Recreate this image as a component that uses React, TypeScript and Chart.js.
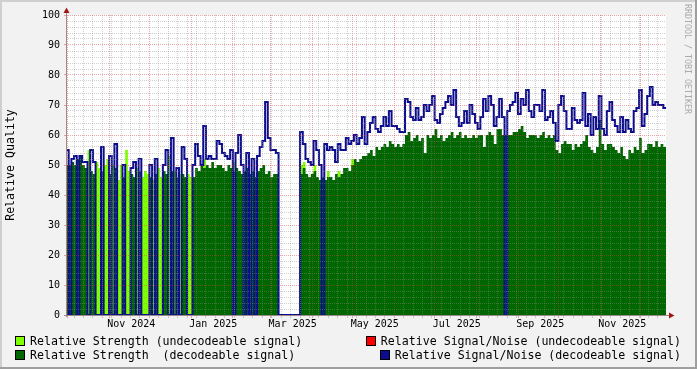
import React, { useEffect, useRef } from "react";
import { Chart, registerables } from "chart.js";

Chart.register(...registerables);

const MONO = "'DejaVu Sans Mono', monospace";

// ---- time axis ----
const SPAN_START = "2024-09-30";
const SPAN_DAYS = 446;
const STEP_DAYS = 2;
const monthStarts = [
  "2024-10-01", "2024-11-01", "2024-12-01", "2025-01-01", "2025-02-01", "2025-03-01",
  "2025-04-01", "2025-05-01", "2025-06-01", "2025-07-01", "2025-08-01", "2025-09-01",
  "2025-10-01", "2025-11-01", "2025-12-01",
];
const labelMonths = ["2024-11-01", "2025-01-01", "2025-03-01", "2025-05-01", "2025-07-01", "2025-09-01", "2025-11-01"];
const labelTexts = ["Nov 2024", "Jan 2025", "Mar 2025", "May 2025", "Jul 2025", "Sep 2025", "Nov 2025"];
const LABEL_SHIFT_DAYS = 16.5;
const FIRST_WEEK_LINE = "2024-10-06";
const WEEK_DAYS = 7;

// ---- value axis ----
const yMajorLabels = ["0", "10", "20", "30", "40", "50", "60", "70", "80", "90", "100"];
const Y_MINOR_STEP = 2;

// ---- series (one value per 2-day step) ----
const strengthDecodeable = [
  50, 50, 51, 50, 52, 53, 50, 49, 0, 48,
  47, 0, 0, 48, 0, 0, 47, 0, 49, 0,
  0, 46, 0, 0, 47, 46, 0, 48, 0, 0,
  0, 46, 0, 47, 0, 0, 48, 47, 0, 48,
  0, 46, 0, 47, 46, 0, 0, 46, 49, 48,
  50, 49, 50, 49, 51, 49, 50, 50, 49, 48,
  50, 49, 48, 49, 48, 47, 48, 49, 47, 48,
  46, 48, 49, 50, 47, 48, 46, 47, 47, 0,
  0, 0, 0, 0, 0, 0, 0, 47, 49, 47,
  46, 47, 48, 46, 45, 46, 45, 46, 46, 45,
  47, 46, 47, 49, 49, 48, 50, 52, 51, 52,
  53, 53, 54, 55, 53, 56, 55, 56, 57, 56,
  58, 57, 56, 57, 56, 57, 60, 61, 58, 59,
  60, 58, 59, 54, 60, 59, 60, 62, 59, 60,
  58, 59, 60, 61, 59, 60, 61, 59, 60, 59,
  59, 60, 59, 60, 60, 56, 60, 61, 60, 57,
  62, 62, 60, 60, 60, 60, 61, 61, 62, 63,
  61, 59, 60, 60, 60, 59, 60, 61, 59, 60,
  59, 60, 55, 54, 57, 58, 57, 57, 55, 57,
  56, 57, 58, 60, 56, 55, 54, 56, 65, 57,
  55, 57, 57, 56, 55, 54, 56, 53, 52, 55,
  54, 56, 55, 59, 54, 55, 57, 57, 56, 58,
  56, 57, 56,
];

const strengthUndecodeable = [
  0, 0, 0, 0, 0, 0, 0, 0, 55, 0,
  0, 51, 49, 0, 50, 52, 0, 50, 0, 45,
  50, 0, 55, 48, 0, 0, 49, 0, 46, 48,
  47, 0, 45, 0, 49, 46, 0, 0, 53, 0,
  48, 0, 47, 0, 0, 47, 46, 0, 0, 0,
  0, 52, 0, 0, 0, 0, 0, 0, 0, 0,
  0, 0, 51, 0, 0, 0, 0, 0, 0, 0,
  0, 0, 0, 0, 0, 0, 0, 0, 0, 0,
  0, 0, 0, 0, 0, 0, 0, 50, 51, 0,
  0, 0, 50, 0, 0, 0, 0, 48, 0, 0,
  0, 48, 0, 0, 0, 0, 52, 0, 0, 0,
  0, 0, 0, 0, 0, 0, 0, 0, 0, 0,
  0, 0, 0, 0, 0, 0, 0, 0, 0, 0,
  0, 0, 0, 0, 0, 0, 0, 0, 0, 0,
  0, 0, 0, 0, 0, 0, 0, 0, 0, 0,
  0, 0, 0, 0, 0, 0, 0, 0, 0, 0,
  0, 0, 0, 0, 0, 0, 0, 0, 0, 0,
  0, 0, 0, 0, 0, 0, 0, 0, 0, 0,
  0, 0, 0, 0, 0, 0, 0, 0, 0, 0,
  0, 0, 0, 0, 0, 0, 0, 0, 0, 0,
  0, 0, 0, 0, 0, 0, 0, 0, 0, 0,
  0, 0, 0, 0, 0, 0, 0, 0, 0, 0,
  0, 0, 0,
];

const snrDecodeable = [
  55, 0, 52, 53, 0, 53, 51, 51, 0, 55,
  51, 0, 0, 56, 0, 0, 53, 0, 57, 0,
  0, 50, 0, 0, 49, 51, 0, 52, 0, 0,
  0, 50, 0, 52, 0, 0, 50, 55, 0, 59,
  0, 49, 0, 56, 52, 0, 0, 50, 57, 53,
  50, 63, 52, 53, 52, 52, 58, 57, 54, 53,
  52, 55, 0, 54, 60, 50, 0, 54, 0, 52,
  0, 53, 56, 58, 71, 59, 55, 55, 54, 0,
  0, 0, 0, 0, 0, 0, 0, 61, 57, 52,
  51, 50, 58, 55, 50, 0, 57, 55, 56, 55,
  51, 57, 55, 55, 59, 57, 58, 60, 57, 59,
  66, 57, 61, 64, 66, 62, 61, 63, 66, 63,
  68, 63, 63, 62, 61, 61, 72, 71, 66, 65,
  69, 65, 66, 70, 68, 70, 73, 65, 64, 67,
  69, 71, 73, 70, 75, 66, 63, 64, 68, 64,
  70, 67, 64, 62, 66, 72, 68, 73, 70, 63,
  66, 72, 66, 0, 68, 70, 71, 74, 67, 72,
  70, 75, 68, 66, 70, 70, 68, 75, 65, 66,
  68, 64, 58, 70, 73, 68, 62, 62, 69, 65,
  64, 65, 74, 63, 67, 60, 66, 62, 73, 62,
  60, 68, 71, 65, 63, 61, 66, 61, 65, 62,
  61, 68, 69, 75, 63, 67, 73, 76, 70, 71,
  70, 70, 69,
];

// ---- colours ----
const LIGHT_GREEN = "#80ff00";
const DARK_GREEN = "#006600";
const RED = "#ff0000";
const BLUE = "#0c0c8f";
const GRID = "rgba(140,140,140,0.42)";
const MGRID = "rgba(210,60,60,0.45)";
const AXIS = "#9a8a8a";
const ARROW = "#a01818";

const dayOf = (s: string) =>
  (Date.parse(s + "T00:00:00Z") - Date.parse(SPAN_START + "T00:00:00Z")) / 86400000;

const toPoints = (arr: number[]) => {
  const pts = arr.map((v, i) => ({ x: i * STEP_DAYS, y: v }));
  pts.push({ x: SPAN_DAYS, y: arr[arr.length - 1] });
  return pts;
};

type XTick = { value: number; kind: "major" | "minor" | "label"; label: string };

function buildXTicks(): XTick[] {
  const ticks: XTick[] = [];
  const majors = monthStarts.map(dayOf);
  majors.forEach((v) => ticks.push({ value: v, kind: "major", label: "" }));
  for (let d = dayOf(FIRST_WEEK_LINE); d < SPAN_DAYS; d += WEEK_DAYS) {
    if (!majors.some((m) => Math.abs(m - d) < 0.9)) ticks.push({ value: d, kind: "minor", label: "" });
  }
  labelMonths.forEach((m, i) =>
    ticks.push({ value: dayOf(m) + LABEL_SHIFT_DAYS, kind: "label", label: labelTexts[i] })
  );
  return ticks.filter((t) => t.value > 0 && t.value < SPAN_DAYS).sort((a, b) => a.value - b.value);
}

function buildYTicks(): { value: number; major: boolean; label: string }[] {
  const out: { value: number; major: boolean; label: string }[] = [];
  const max = Number(yMajorLabels[yMajorLabels.length - 1]);
  for (let v = 0; v <= max; v += Y_MINOR_STEP) {
    const lab = yMajorLabels.find((l) => Number(l) === v);
    out.push({ value: v, major: lab !== undefined, label: lab ?? "" });
  }
  return out;
}

const framePlugin = {
  id: "rrdFrame",
  beforeDraw(chart: any) {
    const { ctx, chartArea: a, width, height } = chart;
    ctx.save();
    ctx.fillStyle = "#f2f2f2";
    ctx.fillRect(0, 0, width, height);
    ctx.fillStyle = "#cfcfcf";
    ctx.fillRect(0, 0, width, 2);
    ctx.fillRect(0, 0, 2, height);
    ctx.fillStyle = "#9e9e9e";
    ctx.fillRect(0, height - 2, width, 2);
    ctx.fillRect(width - 2, 0, 2, height);
    ctx.fillStyle = "#ffffff";
    ctx.fillRect(a.left, a.top, a.right - a.left, a.bottom - a.top);
    ctx.restore();
  },
  afterDraw(chart: any) {
    const { ctx, chartArea: a } = chart;
    const ax = a.left + 0.5;
    const ay = a.bottom + 0.5;
    ctx.save();
    ctx.strokeStyle = AXIS;
    ctx.lineWidth = 1;
    ctx.beginPath();
    ctx.moveTo(ax, a.bottom + 2);
    ctx.lineTo(ax, a.top - 4);
    ctx.moveTo(a.left - 2, ay);
    ctx.lineTo(a.right + 4, ay);
    ctx.stroke();
    ctx.fillStyle = ARROW;
    ctx.beginPath();
    ctx.moveTo(ax - 3, a.top - 2);
    ctx.lineTo(ax + 3, a.top - 2);
    ctx.lineTo(ax, a.top - 7.5);
    ctx.closePath();
    ctx.fill();
    ctx.beginPath();
    ctx.moveTo(a.right + 3, ay - 3);
    ctx.lineTo(a.right + 3, ay + 3);
    ctx.lineTo(a.right + 8.5, ay);
    ctx.closePath();
    ctx.fill();
    ctx.restore();
  },
};

function RrdChart() {
  const ref = useRef<HTMLCanvasElement | null>(null);

  useEffect(() => {
    document.body.style.margin = "0";
    const xTicks = buildXTicks();
    const yTicks = buildYTicks();
    const canvas = ref.current;
    if (!canvas) return;

    const chart = new Chart(canvas, {
      type: "line",
      data: {
        datasets: [
          {
            label: "Relative Signal/Noise (decodeable signal)",
            data: toPoints(snrDecodeable),
            borderColor: BLUE,
            borderWidth: 2,
            stepped: true,
            fill: false,
            pointRadius: 0,
            borderJoinStyle: "miter",
            borderCapStyle: "butt",
          } as any,
          {
            label: "Relative Strength  (decodeable signal)",
            data: toPoints(strengthDecodeable),
            borderColor: "transparent",
            borderWidth: 0,
            backgroundColor: DARK_GREEN,
            fill: "origin",
            stepped: true,
            pointRadius: 0,
          } as any,
          {
            label: "Relative Strength (undecodeable signal)",
            data: toPoints(strengthUndecodeable),
            borderColor: "transparent",
            borderWidth: 0,
            backgroundColor: LIGHT_GREEN,
            fill: "origin",
            stepped: true,
            pointRadius: 0,
          } as any,
        ],
      },
      options: {
        animation: false,
        responsive: false,
        devicePixelRatio: 1,
        events: [],
        parsing: false,
        normalized: true,
        layout: { padding: { left: 0, top: 15, right: 31, bottom: 34 } },
        plugins: { legend: { display: false }, tooltip: { enabled: false } },
        scales: {
          x: {
            type: "linear",
            min: 0,
            max: SPAN_DAYS,
            afterBuildTicks: (s: any) => {
              s.ticks = xTicks.map((t) => ({ value: t.value }));
            },
            afterFit: (s: any) => {
              s.height = 20;
            },
            ticks: {
              autoSkip: false,
              maxRotation: 0,
              minRotation: 0,
              padding: 0,
              color: "#000",
              font: { family: MONO, size: 10 },
              callback: (_v: any, i: number) => (xTicks[i] ? xTicks[i].label : ""),
            },
            grid: {
              z: 1,
              lineWidth: 1,
              tickLength: 3,
              color: (c: any) => {
                const t = xTicks[c.index];
                if (!t || t.kind === "label") return "transparent";
                return t.kind === "major" ? MGRID : GRID;
              },
              tickColor: (c: any) => {
                const t = xTicks[c.index];
                if (!t || t.kind === "label") return "transparent";
                return t.kind === "major" ? MGRID : GRID;
              },
            },
            border: { display: false, dash: [1, 1] },
          },
          y: {
            type: "linear",
            min: 0,
            max: 100,
            afterBuildTicks: (s: any) => {
              s.ticks = yTicks.map((t) => ({ value: t.value }));
            },
            afterFit: (s: any) => {
              s.width = 66;
            },
            ticks: {
              autoSkip: false,
              padding: 4,
              color: "#000",
              font: { family: MONO, size: 10 },
              callback: (_v: any, i: number) => (yTicks[i] ? yTicks[i].label : ""),
            },
            grid: {
              z: 1,
              lineWidth: 1,
              tickLength: 2,
              color: (c: any) => {
                const t = yTicks[c.index];
                if (!t || t.value === 0) return "transparent";
                return t.major ? MGRID : GRID;
              },
              tickColor: (c: any) => {
                const t = yTicks[c.index];
                if (!t || t.value === 0) return "transparent";
                return t.major ? MGRID : "transparent";
              },
            },
            border: { display: false, dash: [1, 1] },
            title: {
              display: true,
              text: "Relative Quality",
              color: "#000",
              font: { family: MONO, size: 11.6 },
              padding: { top: 4, bottom: 0 },
            },
          },
        },
      } as any,
      plugins: [framePlugin],
    });
    return () => chart.destroy();
  }, []);

  const legendText: React.CSSProperties = {
    fontFamily: MONO,
    fontSize: "11.6px",
    lineHeight: "14px",
    whiteSpace: "pre",
    color: "#000",
  };
  const swatch = (c: string): React.CSSProperties => ({
    display: "inline-block",
    width: 8,
    height: 8,
    border: "1px solid #000",
    background: c,
    marginRight: 5,
    flex: "none",
  });
  const row = (pos: React.CSSProperties): React.CSSProperties => ({
    position: "absolute",
    display: "flex",
    alignItems: "center",
    height: 14,
    ...pos,
  });

  return (
    <div style={{ position: "relative", width: 697, height: 369, overflow: "hidden" }}>
      <canvas ref={ref} width={697} height={369} style={{ position: "absolute", left: 0, top: 0, width: 697, height: 369 }} />
      <div style={row({ left: 15, top: 334 })}>
        <span style={swatch(LIGHT_GREEN)} />
        <span style={legendText}>Relative Strength (undecodeable signal)</span>
      </div>
      <div style={row({ left: 15, top: 348 })}>
        <span style={swatch(DARK_GREEN)} />
        <span style={legendText}>Relative Strength  (decodeable signal)</span>
      </div>
      <div style={row({ right: 16, top: 334 })}>
        <span style={swatch(RED)} />
        <span style={legendText}>Relative Signal/Noise (undecodeable signal)</span>
      </div>
      <div style={row({ right: 16, top: 348 })}>
        <span style={swatch(BLUE)} />
        <span style={legendText}>Relative Signal/Noise (decodeable signal)</span>
      </div>
      <div
        style={{
          position: "absolute",
          left: 683,
          top: 4,
          writingMode: "vertical-rl",
          fontFamily: MONO,
          fontSize: "8.3px",
          lineHeight: "10px",
          color: "#aaaaaa",
          whiteSpace: "nowrap",
        }}
      >
        RRDTOOL / TOBI OETIKER
      </div>
    </div>
  );
}

export default function App() {
  return <RrdChart />;
}
